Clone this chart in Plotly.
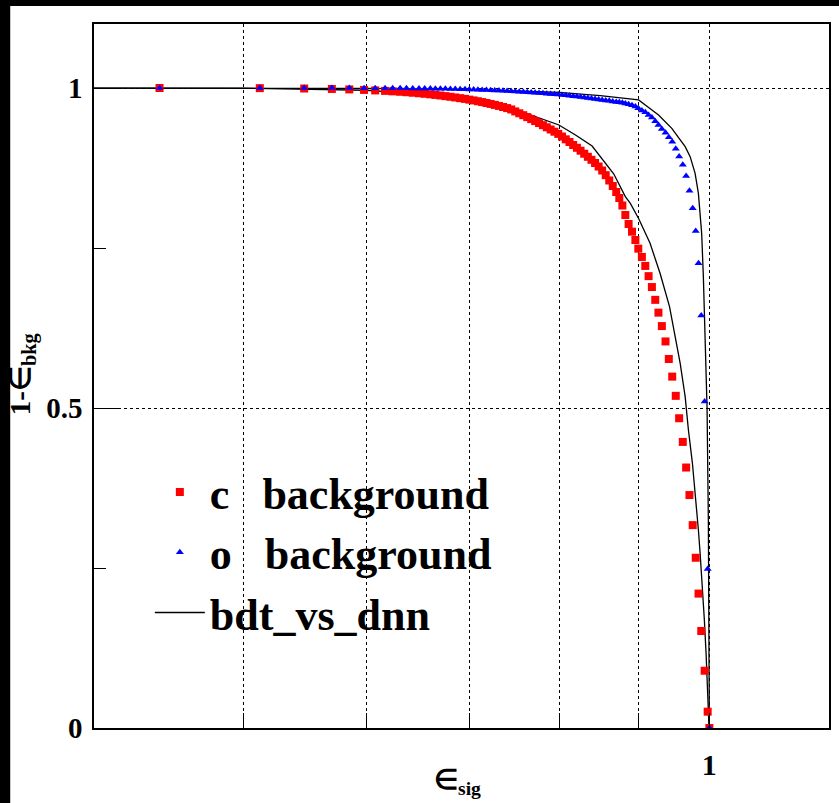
import math
import plotly.graph_objects as go

# ---------------- data ----------------
eps_sig = [0.441, 0.512, 0.547, 0.570, 0.585, 0.598, 0.608, 0.617, 0.624, 0.631,
           0.637, 0.643, 0.649, 0.6545, 0.660, 0.665, 0.670, 0.675, 0.680, 0.685,
           0.690, 0.695, 0.6995, 0.704, 0.7085, 0.713, 0.7175, 0.722, 0.7265, 0.731,
           0.7355, 0.740, 0.7445,
           0.749, 0.7535, 0.758, 0.7625, 0.767, 0.7715, 0.776, 0.7805, 0.785, 0.7895,
           0.794, 0.7985, 0.803, 0.8075, 0.812, 0.8165, 0.821, 0.8255, 0.830, 0.8345,
           0.839, 0.8435, 0.848, 0.8525, 0.857, 0.8615, 0.866, 0.8705, 0.8745, 0.8785,
           0.8824, 0.8867, 0.8912, 0.8957, 0.8996, 0.9044, 0.909, 0.9135, 0.918, 0.9226,
           0.927, 0.9317, 0.9368, 0.9414, 0.9462, 0.9512, 0.956, 0.9612, 0.966, 0.9708,
           0.9755, 0.9799, 0.984, 0.988, 0.993, 0.9975, 1.0]

c_background = [1.0, 0.9998, 0.9992, 0.9985, 0.9978, 0.997, 0.9962, 0.9955, 0.9948, 0.9941,
                0.9934, 0.9926, 0.9918, 0.9910, 0.9901, 0.9892, 0.9883, 0.9873, 0.9863, 0.9852,
                0.9841, 0.9830, 0.9818, 0.9806, 0.9793, 0.9780, 0.9766, 0.9751, 0.9736, 0.9720,
                0.9703, 0.9686, 0.9665,
                0.9634, 0.9605, 0.9575, 0.9545, 0.9514, 0.9483, 0.9452, 0.9419, 0.9386, 0.9352,
                0.9317, 0.9283, 0.9242, 0.9198, 0.9156, 0.9109, 0.9066, 0.9020, 0.8973, 0.8925,
                0.8878, 0.8828, 0.8773, 0.8711, 0.8638, 0.8555, 0.8469, 0.8375, 0.8281, 0.8164,
                0.8016, 0.7875, 0.7755, 0.7625, 0.749, 0.736, 0.722, 0.706, 0.689, 0.669,
                0.649, 0.628, 0.604, 0.5766, 0.549, 0.519, 0.484, 0.447, 0.407, 0.364,
                0.317, 0.266, 0.210, 0.1516, 0.0895, 0.0255, 0.0]

o_background = [1.0, 1.0, 1.0, 0.9999, 0.9999, 0.9998, 0.9998, 0.9997, 0.9997, 0.9996,
                0.9995, 0.9994, 0.9993, 0.9992, 0.9991, 0.999, 0.9988, 0.9987, 0.9985, 0.9983,
                0.9981, 0.9979, 0.9977, 0.9975, 0.9973, 0.997, 0.9968, 0.9965, 0.9962, 0.9959,
                0.9956, 0.9953, 0.995,
                0.9946, 0.9942, 0.9938, 0.9934, 0.993, 0.9926, 0.9921, 0.9917, 0.9912, 0.9907,
                0.9902, 0.9897, 0.9891, 0.9885, 0.9879, 0.9873, 0.9866, 0.9859, 0.9852, 0.9845,
                0.9837, 0.9829, 0.982, 0.9813, 0.9806, 0.9799, 0.9791, 0.9783, 0.9776, 0.9768,
                0.9758, 0.9745, 0.973, 0.9712, 0.9685, 0.965, 0.962, 0.958, 0.954, 0.948,
                0.942, 0.936, 0.930, 0.923, 0.916, 0.905, 0.893, 0.880, 0.8625, 0.8395,
                0.812, 0.7766, 0.726, 0.6445, 0.51, 0.2484, 0.0]

bdt_c_x = [0.38, 0.5, 0.6, 0.7, 0.7458, 0.7993, 0.8193, 0.8398, 0.8672, 0.8824,
           0.889, 0.9, 0.9155, 0.9292, 0.9424, 0.9515, 0.9575, 0.9646, 0.9693, 0.9751,
           0.9799, 0.9838, 0.9863, 0.9897, 0.9926, 0.9951, 0.997, 0.9995]
bdt_c_y = [1.0, 0.9997, 0.9965, 0.9848, 0.9683, 0.9422, 0.9266, 0.9094, 0.866, 0.8302,
           0.8198, 0.796, 0.7573, 0.7105, 0.6583, 0.6063, 0.5698, 0.5177, 0.4656, 0.4136,
           0.3614, 0.3094, 0.2734, 0.2208, 0.1688, 0.1172, 0.0645, 0.0]

bdt_o_x = [0.38, 0.5, 0.6, 0.7, 0.7993, 0.85, 0.9, 0.909, 0.9271, 0.9456, 0.9646, 0.9718,
           0.979, 0.9838, 0.9886, 0.9911, 0.9936, 0.9951, 0.9966, 0.9985, 0.9993, 1.0]
bdt_o_y = [1.0, 0.9999, 0.9993, 0.9975, 0.9933, 0.9880, 0.9813, 0.9734, 0.9578, 0.9370, 0.9083,
           0.8927, 0.8667, 0.8354, 0.7729, 0.7052, 0.6270, 0.575, 0.5, 0.325, 0.15, 0.0]

x_major_ticks = [1.0]
x_major_labels = ["1"]
x_minor_ticks = [0.5, 0.6, 0.7, 0.8, 0.9]

FONT = "Liberation Serif"

# ---------------- figure ----------------
fig = go.Figure()

fig.add_trace(go.Scatter(
    x=bdt_c_x + [None] + bdt_o_x, y=bdt_c_y + [None] + bdt_o_y,
    mode="lines", name="bdt_vs_dnn", connectgaps=False, legendrank=3,
    line=dict(color="black", width=1.3)))
fig.add_trace(go.Scatter(
    x=eps_sig, y=c_background, mode="markers", name="c   background",
    legendrank=1,
    marker=dict(symbol="square", size=8, color="#ff0000", line=dict(width=0))))
fig.add_trace(go.Scatter(
    x=eps_sig, y=o_background, mode="markers", name="o   background",
    legendrank=2,
    marker=dict(symbol="triangle-up", size=7, color="#0000ff", line=dict(width=0))))

W, H = 839, 803
L, R, T, B = 94, 8, 24, 75
pw, ph = W - L - R, H - T - B


def px2x(px):
    return (px - L) / pw


def py2y(py):
    return (H - B - py) / ph


fig.update_layout(
    width=W, height=H,
    margin=dict(l=L, r=R, t=T, b=B, pad=0),
    paper_bgcolor="white", plot_bgcolor="white",
    showlegend=True,
    legend=dict(
        x=px2x(150), y=py2y(457), xanchor="left", yanchor="top",
        bgcolor="rgba(0,0,0,0)", borderwidth=0,
        font=dict(family=FONT, size=44, color="black", weight="bold"),
        itemwidth=50, traceorder="normal",
    ),
    xaxis=dict(
        type="log", range=[math.log10(0.4), math.log10(1.195)],
        tickmode="array", tickvals=x_major_ticks, ticktext=x_major_labels,
        ticks="inside", ticklen=15, tickwidth=1.2, tickcolor="black",
        minor=dict(tickmode="array", tickvals=x_minor_ticks, ticks="inside",
                   ticklen=15, tickwidth=1.2, tickcolor="black",
                   showgrid=True, gridcolor="black", griddash="dot", gridwidth=1),
        showgrid=True, gridcolor="black", griddash="dot", gridwidth=1,
        showline=True, linecolor="black", linewidth=1.5, mirror=True,
        zeroline=False,
        tickfont=dict(family=FONT, size=30, color="black", weight="bold"),
        ticklabelstandoff=9,
    ),
    yaxis=dict(
        range=[0, 1.1], tickmode="linear", tick0=0, dtick=0.5,
        ticks="inside", ticklen=24, tickwidth=1.2, tickcolor="black",
        minor=dict(dtick=0.25, tick0=0, ticks="inside", ticklen=12,
                   tickcolor="black", tickwidth=1.2, showgrid=False),
        showgrid=True, gridcolor="black", griddash="dot", gridwidth=1,
        showline=True, linecolor="black", linewidth=1.5, mirror=True,
        zeroline=False,
        tickfont=dict(family=FONT, size=29, color="black", weight="bold"),
        ticklabelstandoff=4,
    ),
)

# axis titles
fig.add_annotation(
    text="∈<sub>sig</sub>", xref="paper", yref="paper",
    x=px2x(458), y=py2y(781), xanchor="center", yanchor="middle",
    showarrow=False, font=dict(family=FONT, size=28, color="black", weight="bold"))
fig.add_annotation(
    text="1-∈<sub>bkg</sub>", xref="paper", yref="paper",
    x=px2x(22), y=py2y(374), xanchor="center", yanchor="middle", textangle=-90,
    showarrow=False, font=dict(family=FONT, size=29, color="black", weight="bold"))

# dark frame bands of the screenshot
fig.add_shape(type="rect", xref="paper", yref="paper",
              x0=px2x(-5), x1=px2x(10), y0=py2y(H + 5), y1=py2y(-5),
              fillcolor="black", line_width=0, layer="above")
fig.add_shape(type="rect", xref="paper", yref="paper",
              x0=px2x(-5), x1=px2x(W + 5), y0=py2y(6), y1=py2y(-5),
              fillcolor="black", line_width=0, layer="above")

fig.write_html("out.html")
